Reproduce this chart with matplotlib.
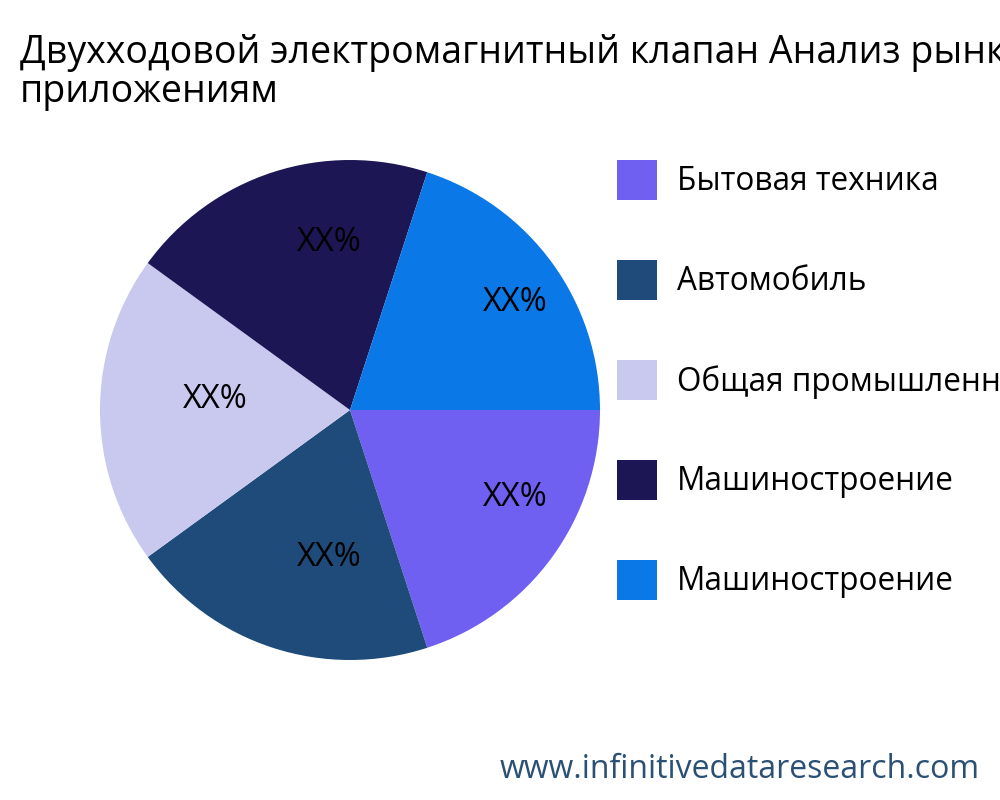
import matplotlib
matplotlib.use("Agg")
import matplotlib.pyplot as plt
from matplotlib.patches import Rectangle
from matplotlib.transforms import ScaledTranslation

plt.rcParams['font.family'] = ['Open Sans', 'DejaVu Sans']

title = "Двухходовой электромагнитный клапан Анализ рынка по\nприложениям"
categories = ["Бытовая техника", "Автомобиль", "Общая промышленность", "Машиностроение", "Машиностроение"]
values = [20, 20, 20, 20, 20]
labels = ["XX%"] * 5
colors = ["#7060F2", "#1F4B7A", "#C9C9F0", "#1C1654", "#0A78E6"]

fig = plt.figure(figsize=(10, 8), dpi=100)
ax = fig.add_axes([0.1, 0.175, 0.5, 0.625])
ax.pie(values, colors=colors, startangle=0, counterclock=False,
       labels=labels, labeldistance=0.664, textprops={'fontsize': 23.5, 'color': 'black'},
       wedgeprops={'linewidth': 0})
off = ScaledTranslation(0.31, 0.10, fig.dpi_scale_trans)
for t in ax.texts:
    t.set_ha('center'); t.set_va('center')
    t.set_transform(ax.transData + off)
ax.set_xlim(-1, 1); ax.set_ylim(-1, 1)
ax.set_aspect('equal')

fig.text(0.02, 0.957, title, fontsize=27, va='top', ha='left', linespacing=1.02)

for i, c in enumerate(categories):
    y = 1 - (182 + 100 * i) / 800
    fig.patches.append(Rectangle((0.617, 1 - (180 + 100 * i) / 800 - 0.025), 0.04, 0.05,
                                 facecolor=colors[i], transform=fig.transFigure, figure=fig))
    fig.text(0.677, y, c, fontsize=22.7, va='center', ha='left')

fig.text(0.98, 0.038, "www.infinitivedataresearch.com", fontsize=23, color="#2B5075",
         ha='right', va='center')
fig.savefig("out.png")
